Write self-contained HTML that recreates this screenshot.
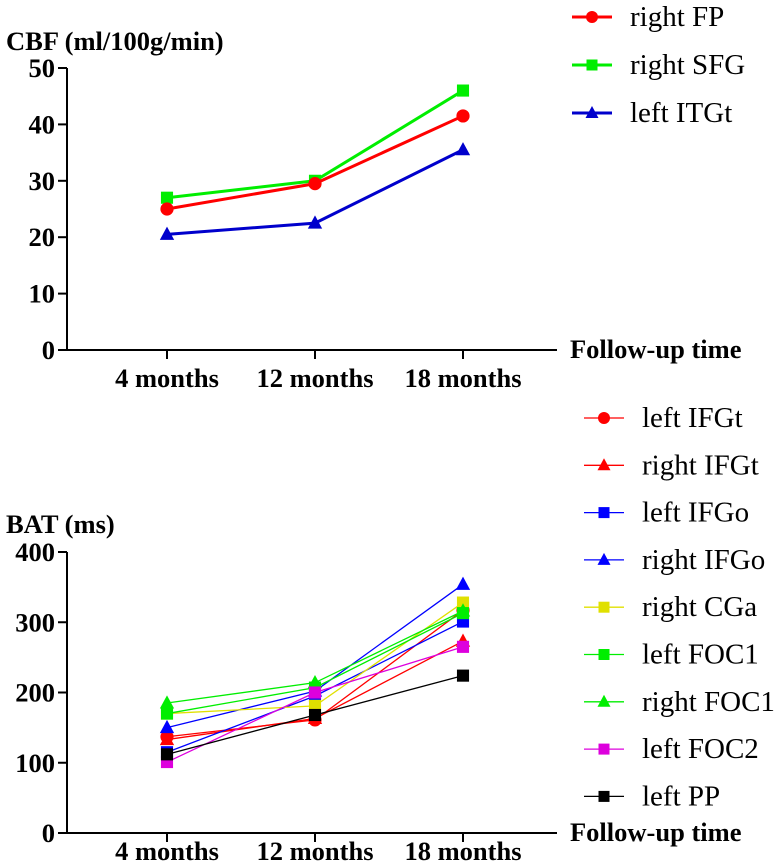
<!DOCTYPE html>
<html><head><meta charset="utf-8"><style>
body{margin:0;background:#fff}
svg{display:block;font-family:"Liberation Serif",serif}
.tk{font-weight:bold;font-size:26.5px}
.lg{font-size:29px}
</style></head><body>
<svg id="c" width="782" height="862" viewBox="0 0 782 862" xmlns="http://www.w3.org/2000/svg"></svg>
<script>
const categories=["4 months","12 months","18 months"];
const cbfTicks=[0,10,20,30,40,50];
const batTicks=[0,100,200,300,400];
const cbfNames=["right FP","right SFG","left ITGt"];
const cbfFP=[25,29.5,41.5];
const cbfSFG=[27,30,46];
const cbfITGt=[20.5,22.5,35.5];
const batNames=["left IFGt","right IFGt","left IFGo","right IFGo","right CGa","left FOC1","right FOC1","left FOC2","left PP"];
const bLeftIFGt=[137,161,317];
const bRightIFGt=[133,163,273];
const bLeftIFGo=[115,195,301];
const bRightIFGo=[150,202,354];
const bRightCGa=[170,181,328];
const bLeftFOC1=[170,207,313];
const bRightFOC1=[185,214,316];
const bLeftFOC2=[101,200,265];
const bLeftPP=[112,168,224];

const NS="http://www.w3.org/2000/svg";
const svg=document.getElementById('c');
function mk(t,a,p){const e=document.createElementNS(NS,t);for(const k in a)e.setAttribute(k,a[k]);(p||svg).appendChild(e);return e;}
const xPos=i=>167+i*148;
function marker(g,shape,x,y,col,s){
  let e;
  if(shape==='circle')e=mk('circle',{cx:x,cy:y,r:s*0.6,fill:col},g);
  else if(shape==='square')e=mk('rect',{x:x-s*0.55,y:y-s*0.55,width:s*1.1,height:s*1.1,fill:col},g);
  else e=mk('polygon',{points:`${x},${y-s*0.7} ${x-s*0.65},${y+s*0.5} ${x+s*0.65},${y+s*0.5}`,fill:col},g);
  
  
}
function axes(y0,yTop,ticks,yScale,title,titleY,dn,catOff){
  const g=mk('g',{});
  
  
  mk('line',{x1:67,y1:yTop,x2:67,y2:y0+1,stroke:'#000','stroke-width':2},g);
  mk('line',{x1:66,y1:y0,x2:557,y2:y0,stroke:'#000','stroke-width':2},g);
  ticks.forEach(t=>{const y=yScale(t);
    mk('line',{x1:58,y1:y,x2:67,y2:y,stroke:'#000','stroke-width':2},g);
    const tx=mk('text',{x:55,y:y+9,'text-anchor':'end',class:'tk'},g);tx.textContent=t;
    
    
  });
  categories.forEach((c,i)=>{const x=xPos(i);
    mk('line',{x1:x,y1:y0,x2:x,y2:y0+9,stroke:'#000','stroke-width':2},g);
    const tx=mk('text',{x:x,y:y0+catOff,'text-anchor':'middle',class:'tk'},g);tx.textContent=c;
    
    
  });
  const xt=mk('text',{x:570,y:y0+8,class:'tk'},g);xt.textContent='Follow-up time';
  
  
  const yt=mk('text',{x:6,y:titleY,class:'tk'},g);yt.textContent=title;
  
  
}
function series(vals,col,shape,yScale,sw,ms,name){
  const g=mk('g',{});
  
  
  mk('polyline',{points:vals.map((v,i)=>xPos(i)+','+yScale(v)).join(' '),fill:'none',stroke:col,'stroke-width':sw},g);
  vals.forEach((v,i)=>marker(g,shape,xPos(i),yScale(v),col,ms));
}
function legendItem(x,y,col,shape,label,sw,ms){
  const g=mk('g',{});
  
  
  mk('line',{x1:x,y1:y,x2:x+40,y2:y,stroke:col,'stroke-width':sw},g);
  marker(g,shape,x+20,y,col,ms);
  const t=mk('text',{x:x+58,y:y+9,class:'lg'},g);t.textContent=label;
}
// top chart
const yTop=v=>350-v*(282/50);
axes(350,68,cbfTicks,yTop,'CBF (ml/100g/min)',50,'cbf-axes',37);
series(cbfSFG,'#00ee00','square',yTop,3,11,'series-right-sfg');
series(cbfFP,'#ff0000','circle',yTop,3,11,'series-right-fp');
series(cbfITGt,'#0000cc','triangle',yTop,3,11,'series-left-itgt');
legendItem(572,17,'#ff0000','circle',cbfNames[0],3,10);
legendItem(572,65,'#00ee00','square',cbfNames[1],3,10);
legendItem(572,113,'#0000cc','triangle',cbfNames[2],3,10);
// bottom chart
const yBot=v=>833-v*(281/400);
axes(833,552,batTicks,yBot,'BAT (ms)',533,'bat-axes',27);
const bat=[[bLeftIFGt,'#ff0000','circle'],[bRightIFGt,'#ff0000','triangle'],[bLeftIFGo,'#0000ff','square'],[bRightIFGo,'#0000ff','triangle'],[bRightCGa,'#e0e000','square'],[bLeftFOC1,'#00ee00','square'],[bRightFOC1,'#00ee00','triangle'],[bLeftFOC2,'#dd00dd','square'],[bLeftPP,'#000000','square']];
bat.forEach((s,i)=>series(s[0],s[1],s[2],yBot,1.3,11,'series-'+batNames[i].replace(/ /g,'-').toLowerCase()));
bat.forEach((s,i)=>legendItem(584,418+i*47.3,s[1],s[2],batNames[i],1.3,10));
</script>
</body></html>
